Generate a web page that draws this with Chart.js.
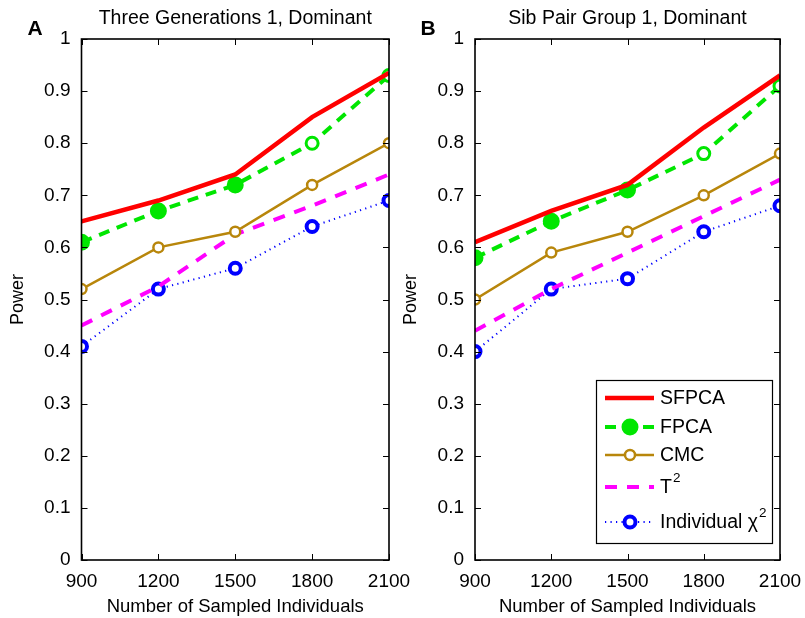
<!DOCTYPE html>
<html>
<head>
<meta charset="utf-8">
<script src="https://cdn.jsdelivr.net/npm/chart.js@4.4.1/dist/chart.umd.min.js"></script>
<style>
  html, body { margin: 0; padding: 0; background: #fff; }
  #wrap { position: relative; width: 805px; height: 618px; overflow: hidden; }
  #boxA { position: absolute; left: 0; top: 0; width: 425px; height: 618px; }
  #boxB { position: absolute; left: 393px; top: 0; width: 412px; height: 618px; }
</style>
</head>
<body>
<div id="wrap">
  <div id="boxA"><canvas id="chartA"></canvas></div>
  <div id="boxB"><canvas id="chartB"></canvas></div>
</div>
<script>
// Datos
const sampleSizes = [900, 1200, 1500, 1800, 2100];
const seriesNames = ['SFPCA', 'FPCA', 'CMC', 'T2', 'Individual χ2'];

// Panel A: Three Generations 1, Dominant
const threeGenSFPCA = [0.65, 0.69, 0.74, 0.85, 0.935];
const threeGenFPCA  = [0.61, 0.67, 0.72, 0.80, 0.93];
const threeGenCMC   = [0.52, 0.60, 0.63, 0.72, 0.80];
const threeGenT2    = [0.45, 0.525, 0.625, 0.68, 0.74];
const threeGenChi2  = [0.41, 0.52, 0.56, 0.64, 0.69];

// Panel B: Sib Pair Group 1, Dominant
const sibPairSFPCA = [0.61, 0.67, 0.72, 0.83, 0.93];
const sibPairFPCA  = [0.58, 0.65, 0.71, 0.78, 0.91];
const sibPairCMC   = [0.50, 0.59, 0.63, 0.70, 0.78];
const sibPairT2    = [0.44, 0.52, 0.59, 0.66, 0.73];
const sibPairChi2  = [0.40, 0.52, 0.54, 0.63, 0.68];

const FONT = "'Liberation Sans', Arial, Helvetica, sans-serif";
const GREEN = '#00e600';
const GOLD = '#b8860b';

function toPoints(values) {
  return values.map((v, i) => ({ x: sampleSizes[i], y: v }));
}

// Construir los datasets con el estilo de cada serie
function buildDatasets(sfpca, fpca, cmc, t2, chi2) {
  return [
    {
      label: seriesNames[0], data: toPoints(sfpca),
      borderColor: '#ff0000', borderWidth: 4.5, pointRadius: 0
    },
    {
      label: seriesNames[1], data: toPoints(fpca),
      borderColor: GREEN, borderWidth: 4, borderDash: [11, 8],
      pointRadius: [7, 7, 7, 6, 6],
      pointBackgroundColor: [GREEN, GREEN, GREEN, '#fff', '#fff'],
      pointBorderColor: GREEN, pointBorderWidth: 3
    },
    {
      label: seriesNames[2], data: toPoints(cmc),
      borderColor: GOLD, borderWidth: 2.5,
      pointRadius: 5, pointBackgroundColor: '#fff',
      pointBorderColor: GOLD, pointBorderWidth: 2.5
    },
    {
      label: seriesNames[3], data: toPoints(t2),
      borderColor: '#ff00ff', borderWidth: 4, borderDash: [12, 10], pointRadius: 0
    },
    {
      label: seriesNames[4], data: toPoints(chi2),
      borderColor: '#0000ff', borderWidth: 2, borderDash: [1.2, 4.3],
      pointRadius: 5.5, pointBackgroundColor: '#fff',
      pointBorderColor: '#0000ff', pointBorderWidth: 4
    }
  ];
}

// Marco, marcas hacia dentro (estilo MATLAB), título y letra del panel
const frameTicks = {
  id: 'frameTicks',
  afterDatasetsDraw(chart) {
    const { ctx, chartArea: a, scales: { x, y } } = chart;
    const len = 6;
    ctx.save();
    ctx.strokeStyle = '#000';
    ctx.lineWidth = 1;
    ctx.beginPath();
    x.ticks.forEach(t => {
      const px = Math.round(x.getPixelForValue(t.value)) + 0.5;
      ctx.moveTo(px, a.bottom); ctx.lineTo(px, a.bottom - len);
      ctx.moveTo(px, a.top); ctx.lineTo(px, a.top + len);
    });
    y.ticks.forEach(t => {
      const py = Math.round(y.getPixelForValue(t.value)) + 0.5;
      ctx.moveTo(a.left, py); ctx.lineTo(a.left + len, py);
      ctx.moveTo(a.right, py); ctx.lineTo(a.right - len, py);
    });
    ctx.stroke();
    ctx.lineWidth = 1.6;
    ctx.strokeRect(a.left, a.top, a.right - a.left, a.bottom - a.top);

    ctx.fillStyle = '#000';
    ctx.textAlign = 'center';
    ctx.textBaseline = 'middle';
    ctx.font = '19.5px ' + FONT;
    ctx.fillText(chart.options.plugins.panelTitle, (a.left + a.right) / 2, 19);
    ctx.font = 'bold 21px ' + FONT;
    ctx.fillText(chart.options.plugins.panelLetter, 35, 29);
    ctx.restore();
  }
};

function drawLabel(ctx, text, x, y) {
  // superíndice para el "2"
  if (text.endsWith('2')) {
    const base = text.slice(0, -1);
    ctx.font = '19.5px ' + FONT;
    ctx.fillText(base, x, y);
    const w = ctx.measureText(base).width;
    ctx.font = '13.5px ' + FONT;
    ctx.fillText('2', x + w + 1, y - 10);
  } else {
    ctx.font = '19.5px ' + FONT;
    ctx.fillText(text, x, y);
  }
}

// Leyenda dibujada a mano dentro del panel B
const boxLegend = {
  id: 'boxLegend',
  afterDraw(chart) {
    if (!chart.options.plugins.showBoxLegend) return;
    const { ctx, chartArea: a } = chart;
    const w = 176, h = 163;
    const left = a.right - 8 - w, top = a.bottom - 17 - h;
    const rows = [18, 47, 75, 107, 142];
    ctx.save();
    ctx.fillStyle = '#fff';
    ctx.fillRect(left, top, w, h);
    ctx.strokeStyle = '#000';
    ctx.lineWidth = 1.2;
    ctx.strokeRect(left + 0.5, top + 0.5, w, h);
    chart.data.datasets.forEach((ds, i) => {
      const yy = top + rows[i];
      ctx.save();
      ctx.strokeStyle = ds.borderColor;
      ctx.lineWidth = ds.borderWidth;
      ctx.setLineDash(ds.borderDash || []);
      ctx.beginPath();
      ctx.moveTo(left + 9, yy);
      ctx.lineTo(left + 58, yy);
      ctx.stroke();
      ctx.restore();
      const r = Array.isArray(ds.pointRadius) ? ds.pointRadius[0] : ds.pointRadius;
      if (r > 0) {
        const bg = Array.isArray(ds.pointBackgroundColor) ? ds.pointBackgroundColor[0] : ds.pointBackgroundColor;
        ctx.beginPath();
        ctx.arc(left + 34, yy, r, 0, Math.PI * 2);
        ctx.fillStyle = bg;
        ctx.fill();
        ctx.lineWidth = ds.pointBorderWidth;
        ctx.strokeStyle = ds.pointBorderColor;
        ctx.stroke();
      }
      ctx.fillStyle = '#000';
      ctx.textAlign = 'left';
      ctx.textBaseline = 'middle';
      drawLabel(ctx, ds.label, left + 64, yy + 1);
    });
    ctx.restore();
  }
};

function makeChart(canvasId, title, letter, datasets, yWidth, rightPad, showLegend) {
  return new Chart(document.getElementById(canvasId), {
    type: 'line',
    data: { datasets: datasets },
    options: {
      responsive: true,
      maintainAspectRatio: false,
      animation: false,
      layout: { padding: { left: 0, right: rightPad, top: 39, bottom: 0 } },
      elements: { line: { tension: 0 } },
      scales: {
        x: {
          type: 'linear', min: 900, max: 2100,
          grid: { display: false, drawTicks: false },
          border: { display: false },
          ticks: { stepSize: 300, color: '#000', padding: 10, font: { family: FONT, size: 19 },
                   callback: v => String(v) },
          title: { display: true, text: 'Number of Sampled Individuals', color: '#000',
                   font: { family: FONT, size: 18.5 }, padding: { top: 4, bottom: 0 } },
          afterFit(scale) { scale.height = 58; scale.paddingLeft = 0; scale.paddingRight = 0; }
        },
        y: {
          min: 0, max: 1,
          grid: { display: false, drawTicks: false },
          border: { display: false },
          ticks: { stepSize: 0.1, color: '#000', padding: 11, font: { family: FONT, size: 19 },
                   callback: v => String(Math.round(v * 10) / 10) },
          title: { display: true, text: 'Power', color: '#000',
                   font: { family: FONT, size: 18 }, padding: { top: 7, bottom: 0 } },
          afterFit(scale) { scale.width = yWidth; scale.paddingTop = 0; scale.paddingBottom = 0; }
        }
      },
      plugins: {
        legend: { display: false },
        tooltip: { enabled: false },
        title: { display: false },
        panelTitle: title,
        panelLetter: letter,
        showBoxLegend: showLegend
      }
    },
    plugins: [frameTicks, boxLegend]
  });
}

makeChart('chartA', 'Three Generations 1, Dominant', 'A',
  buildDatasets(threeGenSFPCA, threeGenFPCA, threeGenCMC, threeGenT2, threeGenChi2), 81.5, 36, false);
makeChart('chartB', 'Sib Pair Group 1, Dominant', 'B',
  buildDatasets(sibPairSFPCA, sibPairFPCA, sibPairCMC, sibPairT2, sibPairChi2), 82, 25, true);
</script>
</body>
</html>
